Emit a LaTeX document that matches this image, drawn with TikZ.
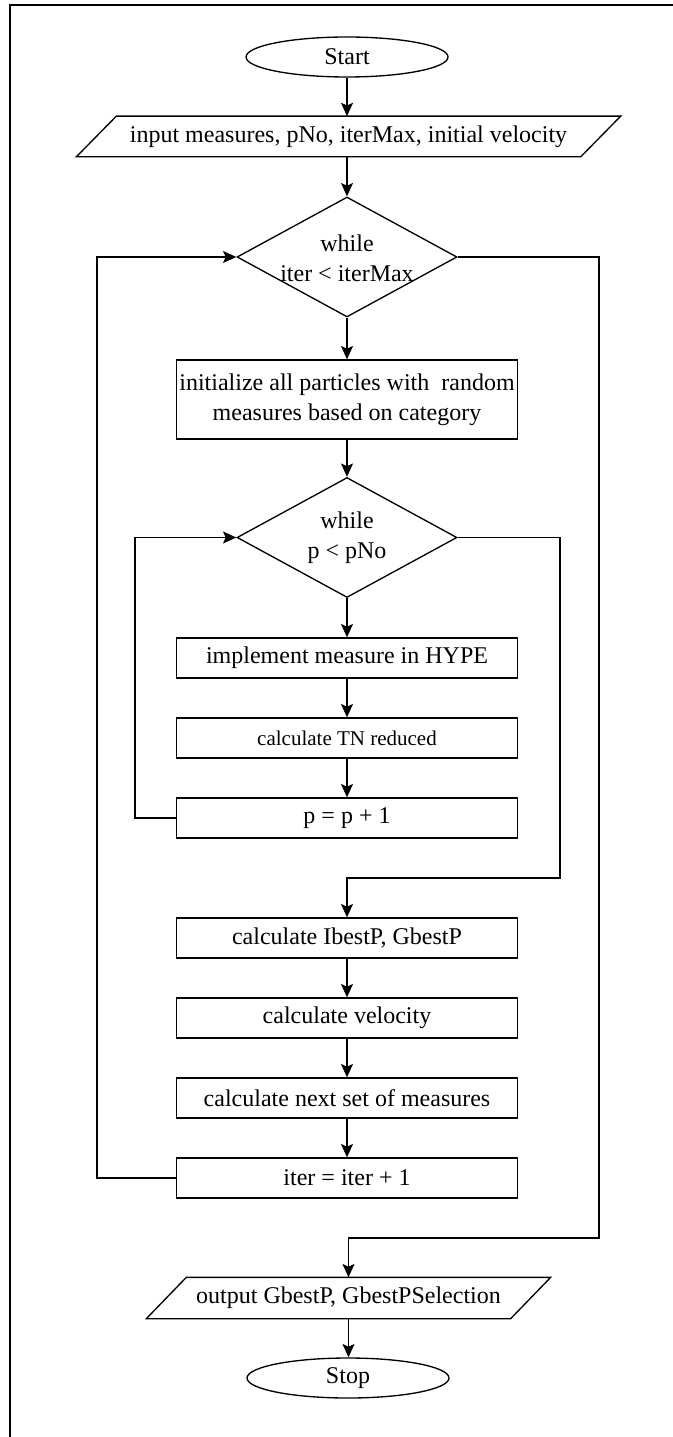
\documentclass[tikz,border=0pt]{standalone}
\usepackage{fontspec}
\setmainfont{Liberation Serif}
\usetikzlibrary{arrows.meta,shapes.geometric}
\begin{document}
\begin{tikzpicture}[x=0.75pt,y=-0.75pt,
  line width=1pt,
  base/.style={font=\fontsize{18}{22.5}\selectfont, inner sep=0pt, align=center},
  procbox/.style={base, draw, minimum width=255.75pt, minimum height=30pt},
  term/.style={base, draw, ellipse, minimum width=151.5pt, minimum height=30pt},
  dia/.style={draw, diamond, aspect=1.8333, minimum width=165pt, minimum height=90pt, inner sep=0pt},
  iobox/.style={base, minimum height=29.5pt},
  arr/.style={-{Stealth[length=10pt,width=9pt,inset=2pt]}},
  frame/.style={line width=1.8pt}
]
\useasboundingbox (0,0) rectangle (673,1437);
\draw[frame] (10,1437) -- (10,5) -- (673,5);

% nodes
\node[term] (start) at (347,57) {Start};
\node[iobox, minimum width=377.25pt] (inp) at (348.5,136.5) {input measures, pNo, iterMax, initial velocity};
\draw ([xshift=15pt]inp.north west) -- ([xshift=15pt]inp.north east) -- ([xshift=-15pt]inp.south east) -- ([xshift=-15pt]inp.south west) -- cycle;

\node[dia] (d1) at (347,257) {};
\node[base] (d1t) at (347,258) {while\\iter < iterMax};

\node[procbox, minimum height=59.25pt] (init) at (347,399.5) {initialize all particles with \ random\\measures based on category};

\node[dia] (d2) at (347,537.5) {};
\node[base] (d2t) at (347,538) {while\\p < pNo};

\node[procbox] (impl) at (347,658) {implement measure in HYPE};
\node[procbox, font=\fontsize{15.75}{19}\selectfont] (tn) at (347,738) {calculate TN reduced};
\node[procbox] (pinc) at (347,818) {p = p + 1};
\node[procbox] (best) at (347,938) {calculate IbestP, GbestP};
\node[procbox] (vel) at (347,1018) {calculate velocity};
\node[procbox] (next) at (347,1098) {calculate next set of measures};
\node[procbox] (iter) at (347,1178) {iter = iter + 1};

\node[iobox, minimum width=272.25pt, minimum height=30pt] (out) at (348.5,1298) {output GbestP, GbestPSelection};
\draw ([xshift=15pt]out.north west) -- ([xshift=15pt]out.north east) -- ([xshift=-15pt]out.south east) -- ([xshift=-15pt]out.south west) -- cycle;

\node[term] (stop) at (348,1378) {Stop};

% helper coordinates
\coordinate (oL) at (97,0);
\coordinate (oR) at (599,0);
\coordinate (iL) at (135,0);
\coordinate (iR) at (560,878);
\coordinate (m1) at (347,878);
\coordinate (oRb) at (599,1238);
\coordinate (m2) at (348.5,1238);

% straight connectors
\draw[arr] (start.south) -- (start.south |- inp.north);
\draw[arr] (inp.south -| d1.north) -- (d1.north);
\draw[arr] (d1.south) -- (init.north);
\draw[arr] (init.south) -- (d2.north);
\draw[arr] (d2.south) -- (impl.north);
\draw[arr] (impl.south) -- (tn.north);
\draw[arr] (tn.south) -- (pinc.north);
\draw[arr] (best.south) -- (vel.north);
\draw[arr] (vel.south) -- (next.north);
\draw[arr] (next.south) -- (iter.north);
\draw[arr] (out.south) -- (out.south |- stop.north);

% loops
\draw[arr] (pinc.west) -- (pinc.west -| iL) |- (d2.west);
\draw[arr] (d2.east) -| (iR) -- (m1) -- (best.north);
\draw[arr] (iter.west) -- (iter.west -| oL) |- (d1.west);
\draw[arr] (d1.east) -| (oRb) -- (m2) -- (out.north);
\end{tikzpicture}
\end{document}
